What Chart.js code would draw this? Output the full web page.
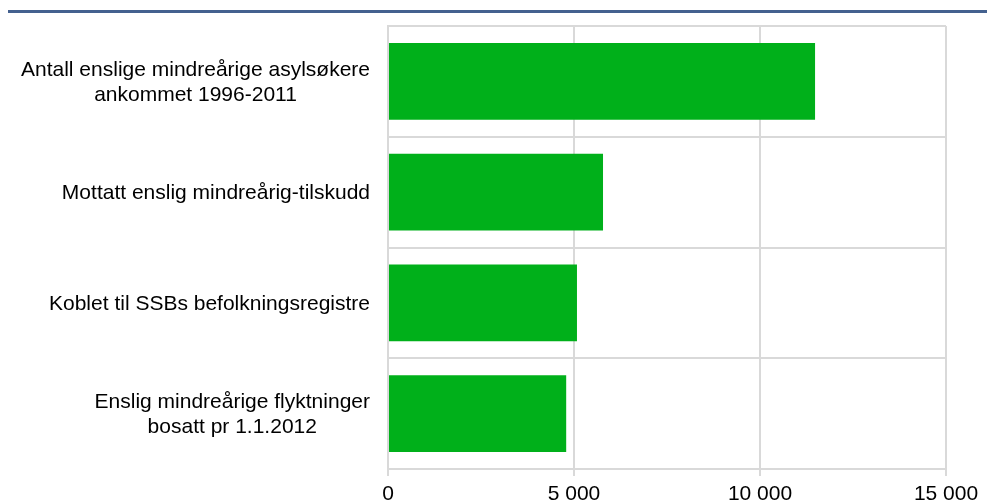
<!DOCTYPE html>
<html lang="no">
<head>
    <meta charset="UTF-8">
    <title>Enslige mindreårige</title>
    <script src="https://cdn.jsdelivr.net/npm/chart.js"></script>
    <style>
        html, body { margin: 0; padding: 0; background: #ffffff; }
        .wrap { position: relative; width: 987px; height: 504px; }
        .topline {
            position: absolute; left: 8px; right: 0; top: 10px;
            height: 3px; background-color: #44618f;
        }
        canvas { position: absolute; left: 0; top: 0; }
    </style>
</head>
<body>
<div class="wrap">
    <div class="topline"></div>
    <canvas id="chart" width="987" height="504"></canvas>
</div>
<script>
    // Data
    var categories = [
        ['Antall enslige mindreårige asylsøkere', 'ankommet 1996-2011'],
        ['Mottatt enslig mindreårig-tilskudd'],
        ['Koblet til SSBs befolkningsregistre'],
        ['Enslig mindreårige flyktninger', 'bosatt pr 1.1.2012']
    ];
    var values = [11480, 5780, 5080, 4790];
    var xTickValues = [0, 5000, 10000, 15000];
    var xTickLabels = ['0', '5 000', '10 000', '15 000'];

    var gridColor = '#d9d9d9';
    var fontFamily = 'Liberation Sans, Arial, sans-serif';
    var fontSize = 21;

    // category labels: each label block right-aligned, its lines centred (as in Excel)
    var yLabelPlugin = {
        id: 'yLabels',
        afterDraw: function (chart) {
            var c = chart.ctx;
            var y = chart.scales.y;
            var right = y.right - 18;
            var lh = 25;
            c.save();
            c.font = fontSize + 'px ' + fontFamily;
            c.fillStyle = '#000000';
            c.textAlign = 'center';
            c.textBaseline = 'middle';
            categories.forEach(function (lines, i) {
                var maxW = 0;
                lines.forEach(function (l) { maxW = Math.max(maxW, c.measureText(l).width); });
                var cx = right - maxW / 2;
                var cy = y.getPixelForValue(i) + 1;
                var y0 = cy - (lines.length - 1) * lh / 2;
                lines.forEach(function (l, j) { c.fillText(l, cx, y0 + j * lh); });
            });
            c.restore();
        }
    };

    var ctx = document.getElementById('chart').getContext('2d');
    var chart = new Chart(ctx, {
        type: 'bar',
        data: {
            labels: categories.map(function (l) { return l.join(' '); }),
            datasets: [{
                data: values,
                backgroundColor: '#00b01a',
                borderWidth: 0,
                barPercentage: 0.695,
                categoryPercentage: 1.0
            }]
        },
        options: {
            indexAxis: 'y',
            responsive: false,
            animation: false,
            layout: { padding: { top: 26, right: 41, left: 0, bottom: 0 } },
            plugins: {
                legend: { display: false },
                tooltip: { enabled: false }
            },
            scales: {
                x: {
                    min: 0,
                    max: 15000,
                    afterBuildTicks: function (axis) {
                        axis.ticks = xTickValues.map(function (v) { return { value: v }; });
                    },
                    afterFit: function (scale) { scale.height = 35; },
                    grid: { color: gridColor, lineWidth: 2, tickLength: 7 },
                    border: { color: gridColor, width: 2 },
                    ticks: {
                        color: '#000000',
                        padding: 6,
                        maxRotation: 0,
                        font: { family: fontFamily, size: fontSize, lineHeight: 1.2 },
                        callback: function (v) {
                            var i = xTickValues.indexOf(v);
                            return i >= 0 ? xTickLabels[i] : '';
                        }
                    }
                },
                y: {
                    afterFit: function (scale) { scale.width = 388; },
                    grid: { color: gridColor, lineWidth: 2, offset: true, drawTicks: false },
                    border: { color: gridColor, width: 2 },
                    ticks: { display: false }
                }
            }
        },
        plugins: [yLabelPlugin]
    });
</script>
</body>
</html>
